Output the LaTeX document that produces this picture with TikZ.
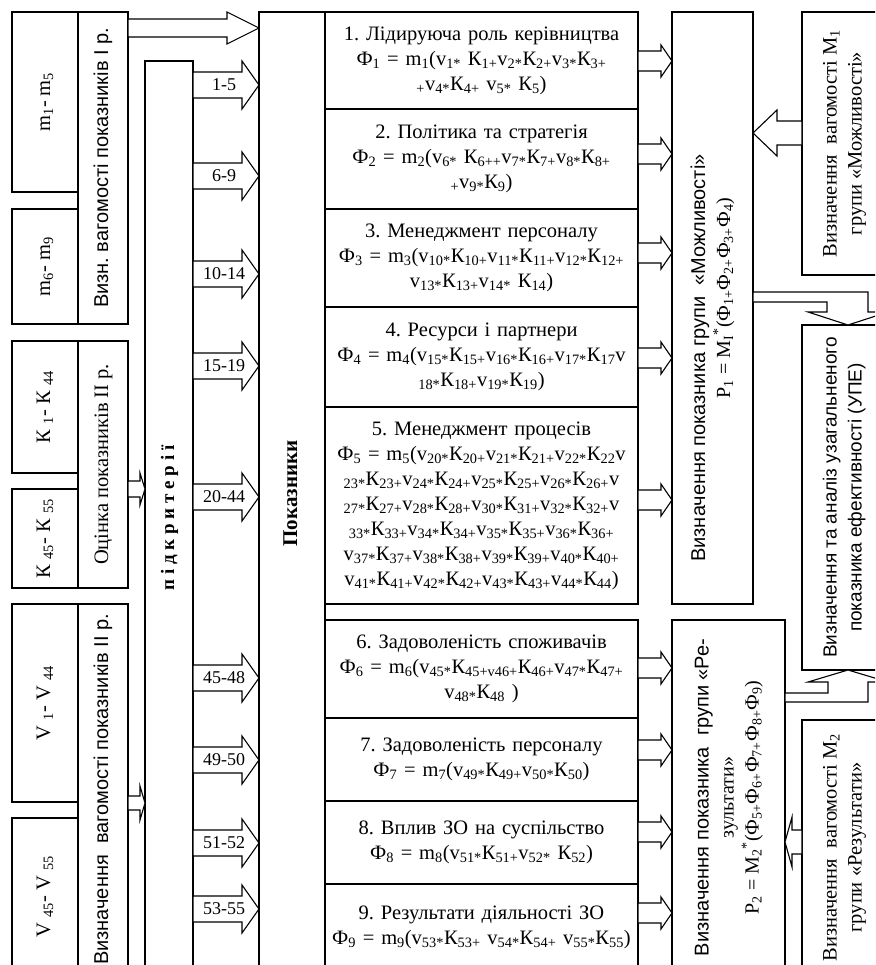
\documentclass[tikz,border=0pt]{standalone}
\usepackage{fontspec}
\setmainfont{Liberation Serif}
\newfontfamily\sansf{Liberation Sans}
\usepackage{graphicx}
\usetikzlibrary{positioning}
\frenchspacing

\newcommand{\ix}[1]{\textsubscript{#1}}
\newcommand{\vt}[1]{\rotatebox{90}{\begin{tabular}{@{}c@{}}#1\end{tabular}}}

% hollow arrow to the right: from, to, y, half shaft, half head, head length
\newcommand{\rarrow}[6]{%
  \draw[blk] (#1.east |- 0,#3-#4) -- ([xshift=-#6pt]#2.west |- 0,#3-#4)
    -- ([xshift=-#6pt]#2.west |- 0,#3-#5) -- (#2.west |- 0,#3)
    -- ([xshift=-#6pt]#2.west |- 0,#3+#5) -- ([xshift=-#6pt]#2.west |- 0,#3+#4)
    -- (#1.east |- 0,#3+#4) -- cycle;}
% hollow arrow to the left
\newcommand{\larrow}[6]{%
  \draw[blk] (#1.west |- 0,#3-#4) -- ([xshift=#6pt]#2.east |- 0,#3-#4)
    -- ([xshift=#6pt]#2.east |- 0,#3-#5) -- (#2.east |- 0,#3)
    -- ([xshift=#6pt]#2.east |- 0,#3+#5) -- ([xshift=#6pt]#2.east |- 0,#3+#4)
    -- (#1.west |- 0,#3+#4) -- cycle;}

\begin{document}
\begin{tikzpicture}[x=1pt, y=-1pt,
  box/.style={draw, rectangle, line width=1.1pt, outer sep=0pt, inner sep=1pt, align=center, font=\fontsize{20.5}{25}\selectfont},
  sbox/.style={box, font=\sansf\fontsize{20}{25}\selectfont},
  fbox/.style={box, text width=309, minimum width=313},
  blk/.style={draw, line width=1.1pt, fill=white, line join=miter},
  lbl/.style={inner sep=0pt, font=\fontsize{18}{20}\selectfont}]

  \useasboundingbox (0,0) rectangle (875,965);
  \clip (0,0) rectangle (875,965);

  % weights and marks
  \node[box, minimum width=66, minimum height=180] (m15) at (45,102) {\vt{m\ix{1}- m\ix{5}}};
  \node[box, minimum width=66, minimum height=115] (m69) at (45,266.5) {\vt{m\ix{6}- m\ix{9}}};
  \node[sbox, minimum width=50, minimum height=312] (wI) at (103,168) {\vt{Визн. вагомості показників І р.}};
  \node[box, minimum width=66, minimum height=132] (k144) at (45,407) {\vt{К \ix{1}- К \ix{44}}};
  \node[box, minimum width=66, minimum height=99] (k4555) at (45,538.5) {\vt{К \ix{45}- К \ix{55}}};
  \node[box, minimum width=50, minimum height=247] (ocin) at (103,464.5) {\vt{Оцінка показників ІІ р.}};
  \node[box, minimum width=66, minimum height=198] (v144) at (45,703) {\vt{V \ix{1}- V \ix{44}}};
  \node[box, minimum width=66, minimum height=157] (v4555) at (45,896.5) {\vt{V \ix{45}- V \ix{55}}};
  \node[sbox, minimum width=50, minimum height=371] (wII) at (103,789.5) {\vt{Визначення\ \ вагомості показників ІІ р.}};

  \node[box, minimum width=48, minimum height=914, font=\bfseries\fontsize{19}{25}\selectfont] (sub) at (169,518) {\vt{п і д к р и т е р і ї}};
  \node[box, minimum width=66, minimum height=963, font=\bfseries\fontsize{21}{25}\selectfont] (pok) at (292,493.5) {\vt{Показники}};

  % criteria
  \node[fbox, minimum height=97, anchor=north west] (f1) at (325,12)
    {1. Лідируюча роль керівництва\\ Ф\ix{1} = m\ix{1}(v\ix{1*} К\ix{1+}v\ix{2*}К\ix{2+}v\ix{3*}К\ix{3+}\\ \ix{+}v\ix{4*}К\ix{4+} v\ix{5*} К\ix{5})};
  \node[fbox, minimum height=100, below=0pt of f1] (f2)
    {2. Політика та стратегія\\ Ф\ix{2} = m\ix{2}(v\ix{6*} К\ix{6++}v\ix{7*}К\ix{7+}v\ix{8*}К\ix{8+}\\ \ix{+}v\ix{9*}К\ix{9})};
  \node[fbox, minimum height=98, below=0pt of f2] (f3)
    {3. Менеджмент персоналу\\ Ф\ix{3} = m\ix{3}(v\ix{10*}К\ix{10+}v\ix{11*}К\ix{11+}v\ix{12*}К\ix{12+}\\ v\ix{13*}К\ix{13+}v\ix{14*} К\ix{14})};
  \node[fbox, minimum height=100, below=0pt of f3] (f4)
    {4. Ресурси і партнери\\ Ф\ix{4} = m\ix{4}(v\ix{15*}К\ix{15+}v\ix{16*}К\ix{16+}v\ix{17*}К\ix{17}v\\ \ix{18*}К\ix{18+}v\ix{19*}К\ix{19})};
  \node[fbox, minimum height=197, below=0pt of f4] (f5)
    {5. Менеджмент процесів\\ Ф\ix{5} = m\ix{5}(v\ix{20*}К\ix{20+}v\ix{21*}К\ix{21+}v\ix{22*}К\ix{22}v\\
     \ix{23*}К\ix{23+}v\ix{24*}К\ix{24+}v\ix{25*}К\ix{25+}v\ix{26*}К\ix{26+}v\\
     \ix{27*}К\ix{27+}v\ix{28*}К\ix{28+}v\ix{30*}К\ix{31+}v\ix{32*}К\ix{32+}v\\
     \ix{33*}К\ix{33+}v\ix{34*}К\ix{34+}v\ix{35*}К\ix{35+}v\ix{36*}К\ix{36+}\\
     v\ix{37*}К\ix{37+}v\ix{38*}К\ix{38+}v\ix{39*}К\ix{39+}v\ix{40*}К\ix{40+}\\
     v\ix{41*}К\ix{41+}v\ix{42*}К\ix{42+}v\ix{43*}К\ix{43+}v\ix{44*}К\ix{44})};
  \node[fbox, minimum height=98, anchor=north west] (f6) at (325,620)
    {6. Задоволеність споживачів\\ Ф\ix{6} = m\ix{6}(v\ix{45*}К\ix{45+v46+}К\ix{46+}v\ix{47*}К\ix{47+}\\ v\ix{48*}К\ix{48} )};
  \node[fbox, minimum height=83, below=0pt of f6] (f7)
    {7. Задоволеність персоналу\\ Ф\ix{7} = m\ix{7}(v\ix{49*}К\ix{49+}v\ix{50*}К\ix{50})};
  \node[fbox, minimum height=83, below=0pt of f7] (f8)
    {8. Вплив ЗО на суспільство\\ Ф\ix{8} = m\ix{8}(v\ix{51*}К\ix{51+}v\ix{52*} К\ix{52})};
  \node[fbox, minimum height=91, text depth=34pt, below=0pt of f8] (f9)
    {9. Результати діяльності ЗО\\ Ф\ix{9} = m\ix{9}(v\ix{53*}К\ix{53+} v\ix{54*}К\ix{54+} v\ix{55*}К\ix{55})};

  % group indicators
  \node[sbox, minimum width=81, minimum height=592, anchor=north west] (pm) at (672,12)
    {\vt{Визначення показника групи\ \ «Можливості»\hspace*{100pt}\\ \rmfamily\hspace*{20pt}P\ix{1} = M\ix{I}\textsuperscript{*}(Ф\ix{1+}Ф\ix{2+}Ф\ix{3+}Ф\ix{4})}};
  \node[sbox, minimum width=113, minimum height=355, anchor=north west] (pr) at (672,620)
    {\vt{Визначення показника\ \ групи «Ре-\\ \rmfamily зультати»\\ \rmfamily P\ix{2} = M\ix{2}\textsuperscript{*}(Ф\ix{5+}Ф\ix{6+}Ф\ix{7+}Ф\ix{8+}Ф\ix{9})}};

  \node[box, minimum width=84, minimum height=263, anchor=north west] (wm) at (802,12)
    {\vt{Визначення\ \ вагомості M\ix{1}\\ групи «Можливості»}};
  \node[sbox, minimum width=84, minimum height=345, anchor=north west, font=\sansf\fontsize{19}{25}\selectfont] (upe) at (802,325)
    {\vt{Визначення та аналіз узагальненого\\ показника ефективності (УПЕ)}};
  \node[box, minimum width=84, minimum height=255, anchor=north west] (wr) at (802,720)
    {\vt{Визначення\ \ вагомості M\ix{2}\\ групи «Результати»}};

  % arrows
  \rarrow{wI}{pok}{28}{9}{16}{32}
  \rarrow{ocin}{sub}{489}{8}{16}{5}
  \rarrow{wII}{sub}{803}{7}{17}{5}

  \rarrow{sub}{pok}{85}{13}{24}{17}
  \node[lbl] (n1) at (224,85) {1-5};
  \rarrow{sub}{pok}{176}{13}{24}{17}
  \node[lbl] (n2) at (224,176) {6-9};
  \rarrow{sub}{pok}{274}{13}{24}{17}
  \node[lbl] (n3) at (224,274) {10-14};
  \rarrow{sub}{pok}{366}{13}{24}{17}
  \node[lbl] (n4) at (224,366) {15-19};
  \rarrow{sub}{pok}{497}{13}{24}{17}
  \node[lbl] (n5) at (224,497) {20-44};
  \rarrow{sub}{pok}{678}{13}{24}{17}
  \node[lbl] (n6) at (224,678) {45-48};
  \rarrow{sub}{pok}{760}{13}{24}{17}
  \node[lbl] (n7) at (224,760) {49-50};
  \rarrow{sub}{pok}{843}{13}{24}{17}
  \node[lbl] (n8) at (224,843) {51-52};
  \rarrow{sub}{pok}{909}{13}{24}{17}
  \node[lbl] (n9) at (224,909) {53-55};

  \rarrow{f1}{pm}{61}{10}{16}{11}
  \rarrow{f2}{pm}{154}{10}{16}{11}
  \rarrow{f3}{pm}{253}{10}{16}{11}
  \rarrow{f4}{pm}{358}{10}{16}{11}
  \rarrow{f5}{pm}{500}{10}{16}{11}
  \rarrow{f6}{pr}{668}{10}{16}{11}
  \rarrow{f7}{pr}{750}{10}{16}{11}
  \rarrow{f8}{pr}{832}{10}{16}{11}
  \rarrow{f9}{pr}{913}{10}{16}{11}

  \larrow{wm}{pm}{133}{12}{23}{24}
  \larrow{wr}{pr}{842}{12}{25}{7}

  \draw[blk] (pm.east |- 0,292) -- (868,292) -- (868,312) -- (888,312) -- (848,0 |- upe.north)
    -- (808,312) -- (827,312) -- (827,302) -- (pm.east |- 0,302) -- cycle;
  \draw[blk] (pr.east |- 0,702) -- (868,702) -- (868,682) -- (888,682) -- (848,0 |- upe.south)
    -- (808,682) -- (828,682) -- (828,693) -- (pr.east |- 0,693) -- cycle;
\end{tikzpicture}
\end{document}
